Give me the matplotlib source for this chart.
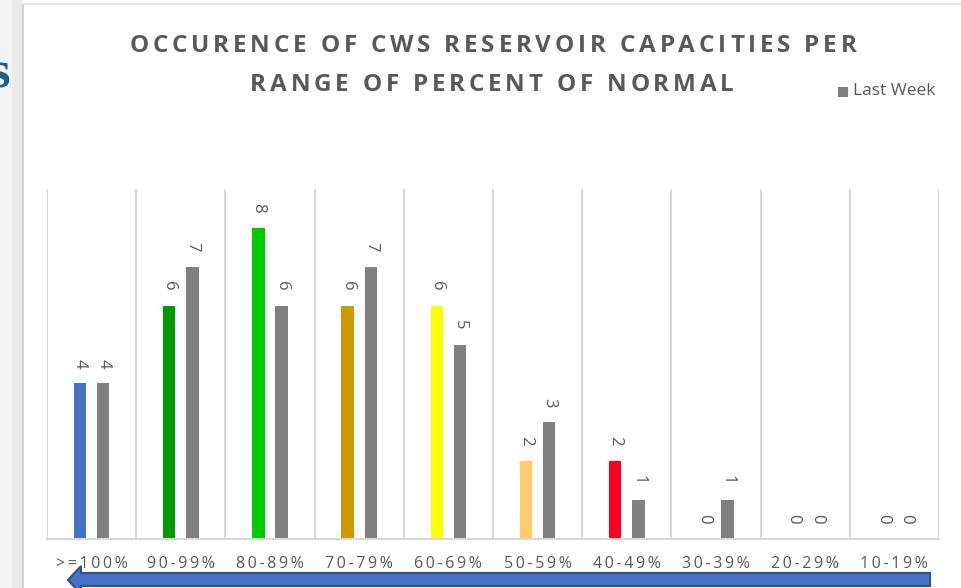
import matplotlib
matplotlib.use("Agg")
import matplotlib.pyplot as plt
import numpy as np
from matplotlib.patches import Rectangle, Polygon
from matplotlib.font_manager import FontProperties

categories = [">=100%", "90-99%", "80-89%", "70-79%", "60-69%",
              "50-59%", "40-49%", "30-39%", "20-29%", "10-19%"]
this_week = [4, 6, 8, 6, 6, 2, 2, 0, 0, 0]
last_week = [4, 7, 6, 7, 5, 3, 1, 1, 0, 0]
bar_colors = ["#4472C4", "#009900", "#00CC00", "#CC9900", "#FFFF00",
              "#FFCC66", "#FF0022", "#808080", "#808080", "#808080"]
last_color = "#808080"
title_lines = ["OCCURENCE OF CWS RESERVOIR CAPACITIES PER",
               "RANGE OF PERCENT OF NORMAL"]
legend_label = "Last Week"

W, H = 962, 588
fig = plt.figure(figsize=(W / 100, H / 100), dpi=100)
fig.patch.set_facecolor("white")
renderer = fig.canvas.get_renderer()

def px(x, y):
    return x / W, 1 - y / H

def spaced_text(text, cx, cy, spacing, **kw):
    prop = FontProperties(family=kw.get("family"), size=kw.get("fontsize"),
                          weight=kw.get("fontweight", "normal"))
    widths = [renderer.get_text_width_height_descent(c, prop, ismath=False)[0]
              for c in text]
    total = sum(widths) + spacing * (len(text) - 1)
    x = cx - total / 2
    for c, w in zip(text, widths):
        fig.text(*px(x, cy), c, ha="left", va="center", **kw)
        x += w + spacing

# left grey strip and panel border
fig.add_artist(Rectangle((0, 0), 22 / W, 1, transform=fig.transFigure,
                         facecolor="#F2F2F2", edgecolor="none", zorder=0))
fig.add_artist(Rectangle((12 / W, 0), 10 / W, 1, transform=fig.transFigure,
                         facecolor="#E9E9E9", edgecolor="none", zorder=0))
fig.add_artist(plt.Line2D([22.5 / W, 22.5 / W], [0, 1 - 4 / H], transform=fig.transFigure,
                          color="#D0D0D0", lw=1.5))
fig.add_artist(plt.Line2D([22.5 / W, 1], [1 - 4 / H, 1 - 4 / H], transform=fig.transFigure,
                          color="#E4E4E4", lw=1.2))
fig.text(*px(10, 74), "s", ha="right", va="center", fontsize=38,
         family="Liberation Serif", fontweight="bold", color="#1F5E8C")

x0, x1 = 47, 939
yb, yt = 539, 189
ax = fig.add_axes([x0 / W, 1 - yb / H, (x1 - x0) / W, (yb - yt) / H])
ax.set_xlim(-0.5, len(categories) - 0.5)
ax.set_ylim(0, 9)
for s in ["top", "right", "left"]:
    ax.spines[s].set_visible(False)
ax.spines["bottom"].set_color("#D9D9D9")
ax.spines["bottom"].set_linewidth(1.5)
ax.set_yticks([])
ax.set_xticks(np.arange(len(categories)))
ax.set_xticklabels(["\u2009".join(c) for c in categories],
                   family=["Open Sans", "DejaVu Sans"], fontsize=11.5, color="#595959")
ax.tick_params(axis="x", length=0, pad=12)
for b in np.arange(-0.5, len(categories), 1.0):
    ax.axvline(b, color="#D9D9D9", lw=1.5, zorder=0)

xs = np.arange(len(categories))
off, bw = 0.13, 0.14
ax.bar(xs - off, this_week, width=bw, color=bar_colors, zorder=2)
ax.bar(xs + off, last_week, width=bw, color=last_color, zorder=2, label=legend_label)
for x, v in zip(xs, this_week):
    ax.annotate(str(v), (x - off, v), xytext=(0, 11), textcoords="offset points",
                ha="center", va="bottom", rotation=-90, fontsize=12, color="#595959",
                family="Open Sans")
for x, v in zip(xs, last_week):
    ax.annotate(str(v), (x + off, v), xytext=(0, 11), textcoords="offset points",
                ha="center", va="bottom", rotation=-90, fontsize=12, color="#595959",
                family="Open Sans")

# title (letter-spaced)
tkw = dict(fontsize=17.5, fontweight="bold", family="Open Sans", color="#595959")
spaced_text(title_lines[0], 493, 46, 3.8, **tkw)
spaced_text(title_lines[1], 492, 85, 3.8, **tkw)

# legend
fig.add_artist(Rectangle(px(838, 97), 10 / W, 10 / H, transform=fig.transFigure,
                         facecolor=last_color, edgecolor="none"))
fig.text(*px(853, 91), legend_label, ha="left", va="center", fontsize=12.5,
         family="Open Sans", color="#595959")

# arrow
pts = [(68, 580), (81, 566), (81, 573), (930, 573), (930, 586), (81, 586), (81, 594)]
arrow = Polygon([px(x, y) for x, y in pts], closed=True, transform=fig.transFigure,
                facecolor="#4472C4", edgecolor="#2F528F", lw=1.5, zorder=5)
fig.add_artist(arrow)

fig.savefig("out.png", dpi=100, facecolor="white")
